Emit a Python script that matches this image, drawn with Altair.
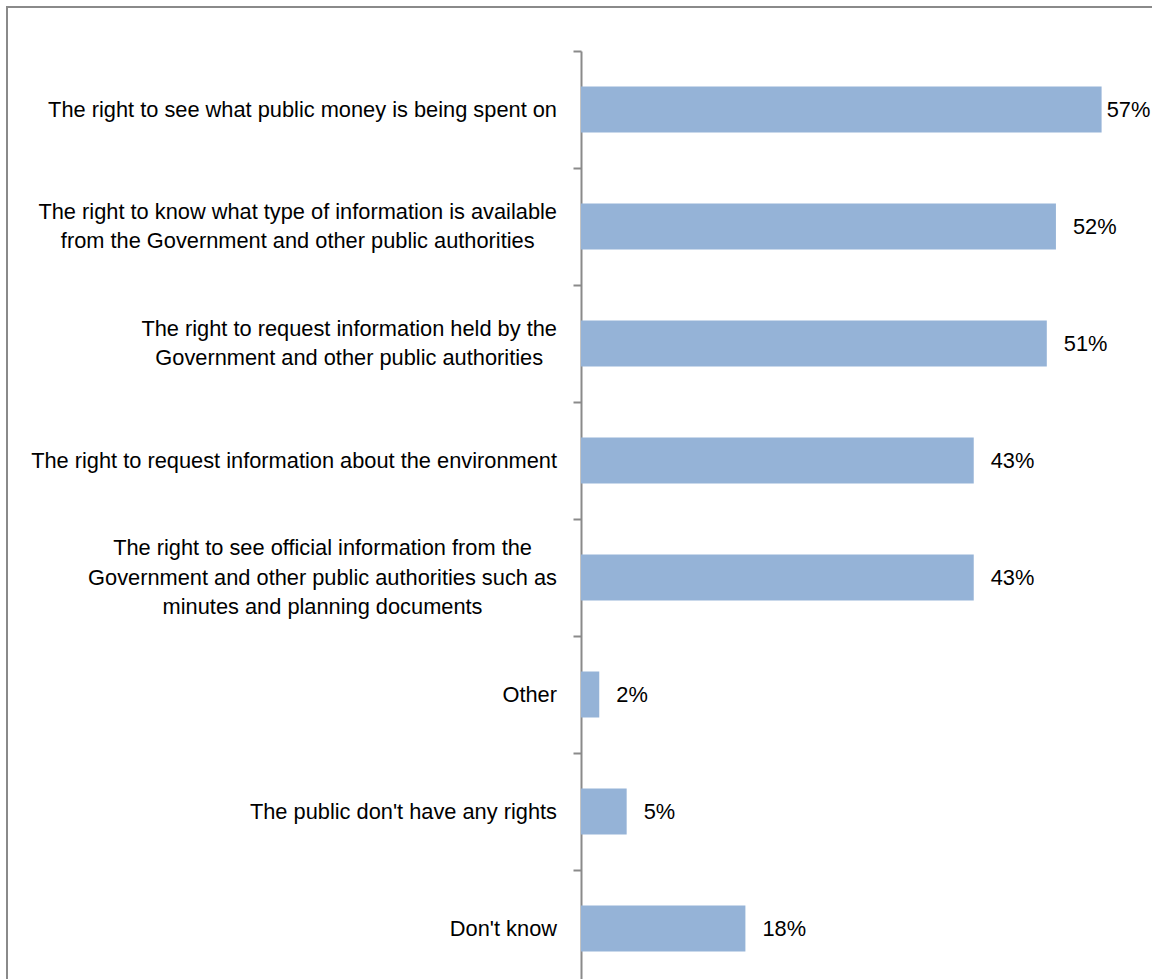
import altair as alt
import pandas as pd

# ---- data ----
labels = [
    ["The right to see what public money is being spent on"],
    ["The right to know what type of information is available",
     "from the Government and other public authorities"],
    ["The right to request information held by the",
     "Government and other public authorities"],
    ["The right to request information about the environment"],
    ["The right to see official information from the",
     "Government and other public authorities such as",
     "minutes and planning documents"],
    ["Other"],
    ["The public don't have any rights"],
    ["Don't know"],
]
values = [57, 52, 51, 43, 43, 2, 5, 18]

# ---- style ----
FONT = "Liberation Sans"
FS = 21.8
LINE_H = 29.5
BAR_COLOR = "#95b3d7"
GRID_GREY = "#8a8a8a"
PLOT_W = 548
TOP = 51
PLOT_H = 979 - TOP
BAND_RANGE = 936
LABEL_GAP = 24

# Arial / Liberation Sans advance widths (per 1000 em)
AW = {' ': 278, "'": 191, '%': 889, '.': 278, ',': 278, '-': 333,
      'A': 667, 'B': 667, 'C': 722, 'D': 722, 'E': 667, 'F': 611, 'G': 778, 'H': 722,
      'I': 278, 'J': 500, 'K': 667, 'L': 556, 'M': 833, 'N': 722, 'O': 778, 'P': 667,
      'Q': 778, 'R': 722, 'S': 667, 'T': 611, 'U': 722, 'V': 667, 'W': 944, 'X': 667,
      'Y': 667, 'Z': 611,
      'a': 556, 'b': 556, 'c': 500, 'd': 556, 'e': 556, 'f': 278, 'g': 556, 'h': 556,
      'i': 222, 'j': 222, 'k': 500, 'l': 222, 'm': 833, 'n': 556, 'o': 556, 'p': 556,
      'q': 556, 'r': 333, 's': 500, 't': 278, 'u': 556, 'v': 500, 'w': 722, 'x': 500,
      'y': 500, 'z': 500}


def text_width(s):
    return sum(AW.get(ch, 556) for ch in s) / 1000.0 * FS


keys = ["|".join(l) for l in labels]
df = pd.DataFrame({"cat": keys, "pct": values})

yenc = alt.Y("cat:N", sort=keys,
             scale=alt.Scale(domain=keys, range=[0, BAND_RANGE], paddingInner=0, paddingOuter=0),
             axis=alt.Axis(labels=False, title=None, bandPosition=0, tickSize=8,
                           tickColor=GRID_GREY, domainColor=GRID_GREY, tickWidth=2,
                           domainWidth=2, grid=False))

xscale = alt.Scale(domain=[0, 60])

bars = alt.Chart(df).mark_bar(size=46, color=BAR_COLOR).encode(
    x=alt.X("pct:Q", scale=xscale, axis=None),
    y=yenc,
)

vals = alt.Chart(df).transform_calculate(
    labx="min(datum.pct, 55.7)",
    txt="datum.pct + '%'",
).mark_text(align="left", baseline="middle", dx=17, font=FONT, fontSize=FS, color="black").encode(
    x=alt.X("labx:Q", scale=xscale, axis=None),
    y=alt.Y("cat:N", sort=keys),
    text="txt:N",
)

label_layers = []
for lines, key in zip(labels, keys):
    blockw = max(text_width(s) for s in lines)
    d = pd.DataFrame({"cat": [key]})
    label_layers.append(
        alt.Chart(d).mark_text(align="center", baseline="middle", lineBreak="|",
                               lineHeight=LINE_H, font=FONT, fontSize=FS, color="black",
                               dx=-(LABEL_GAP + blockw / 2),
                               dy=-(len(lines) - 1) * LINE_H / 2).encode(
            x=alt.value(0),
            y=alt.Y("cat:N", sort=keys),
            text="cat:N",
        )
    )

frame = alt.Chart(pd.DataFrame({"a": [0]})).mark_rect(
    fill="white", fillOpacity=0, stroke=GRID_GREY, strokeWidth=2
).encode(
    x=alt.value(-574), x2=alt.value(800),
    y=alt.value(7 - TOP), y2=alt.value(1100),
)

chart = alt.layer(frame, bars, vals, *label_layers).properties(
    width=PLOT_W, height=PLOT_H,
    autosize=alt.AutoSizeParams(type="none"),
    padding={"left": 581, "top": TOP, "right": 1152 - 581 - PLOT_W, "bottom": 0},
    background="white",
).configure_view(stroke=None)

chart.save("out.html", embed_options={"renderer": "svg", "actions": False})
